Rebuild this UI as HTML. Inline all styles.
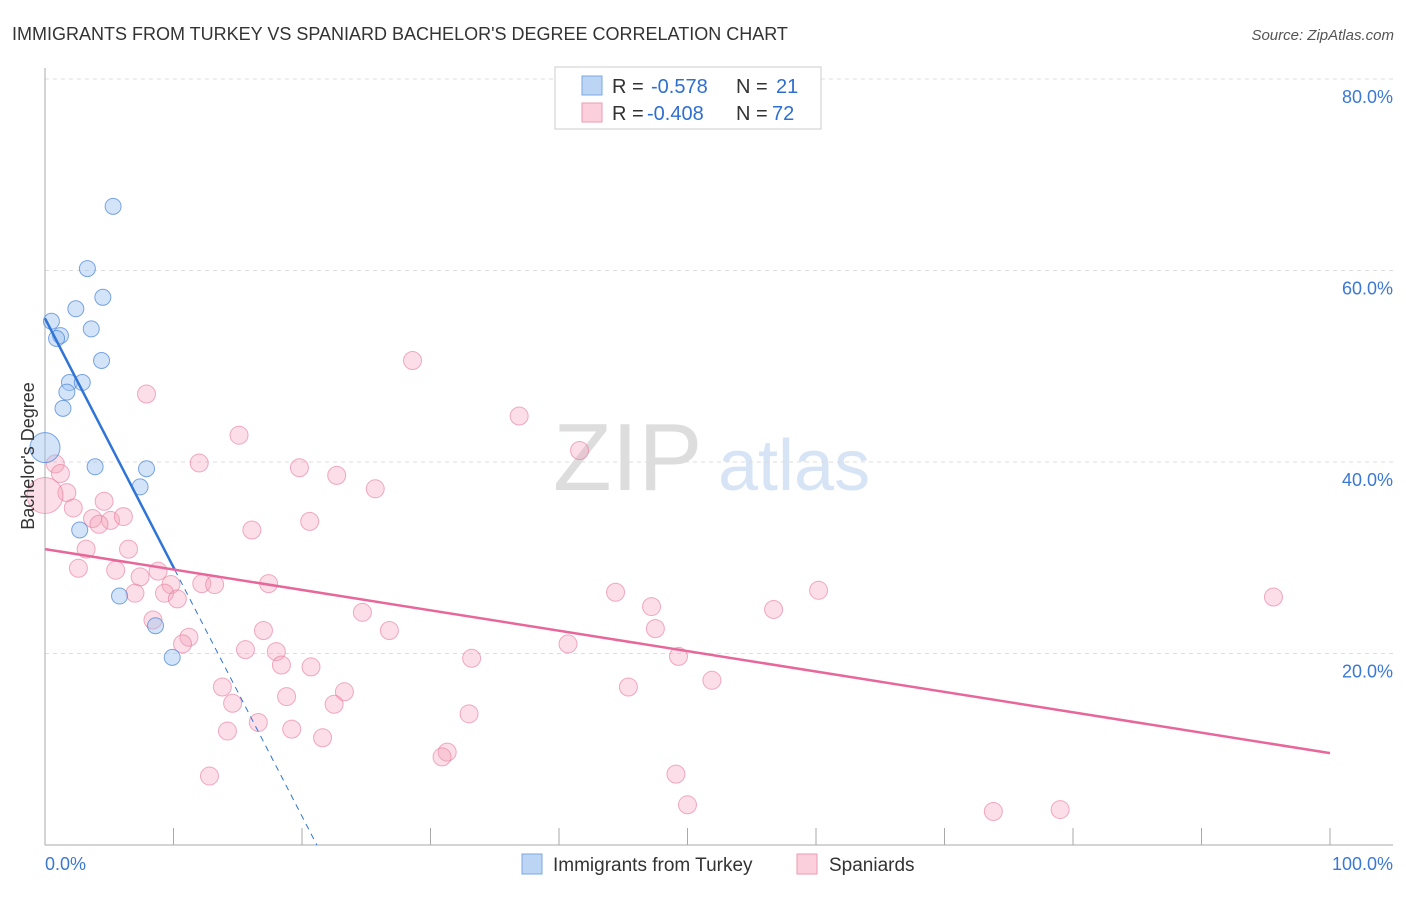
<!DOCTYPE html>
<html><head><meta charset="utf-8"><style>
body{margin:0;background:#fff;font-family:"Liberation Sans",sans-serif;}
svg text{font-family:"Liberation Sans",sans-serif;}
</style></head><body>
<svg id="chart" width="1406" height="892" xmlns="http://www.w3.org/2000/svg">
<text x="12" y="40" font-size="18" fill="#333">IMMIGRANTS FROM TURKEY VS SPANIARD BACHELOR'S DEGREE CORRELATION CHART</text>
<text x="1394" y="40" font-size="15" fill="#555" text-anchor="end" font-style="italic">Source: ZipAtlas.com</text>
<g><text x="553" y="490" font-size="96" fill="#ddd" font-family="Liberation Serif">ZIP</text><text x="718" y="490" font-size="72" fill="#d6e4f5">atlas</text></g>
<g id="grid"></g><g id="axes"></g><g id="pts"></g><g id="lines"></g>
<text transform="translate(34,456) rotate(-90)" font-size="18" fill="#333" text-anchor="middle">Bachelor's Degree</text>
<g>
<rect x="555" y="67" width="266" height="62" fill="#fff" stroke="#ccc"/>
<rect x="582" y="76" width="20" height="19" fill="#bcd5f5" stroke="#7aa8e0"/>
<rect x="582" y="103" width="20" height="19" fill="#fbd0dc" stroke="#ee9ab3"/>
<text x="612" y="93" font-size="20" fill="#333">R =</text>
<text x="651" y="93" font-size="20" fill="#2f6fd0">-0.578</text>
<text x="736" y="93" font-size="20" fill="#333">N =</text>
<text x="776" y="93" font-size="20" fill="#2f6fd0">21</text>
<text x="612" y="120" font-size="20" fill="#333">R =</text>
<text x="647" y="120" font-size="20" fill="#2f6fd0">-0.408</text>
<text x="736" y="120" font-size="20" fill="#333">N =</text>
<text x="772" y="120" font-size="20" fill="#2f6fd0">72</text>
</g>
<g>
<rect x="522" y="854" width="20" height="20" fill="#bcd5f5" stroke="#7aa8e0"/>
<text x="553" y="871" font-size="19" fill="#333">Immigrants from Turkey</text>
<rect x="797" y="854" width="20" height="20" fill="#fbd0dc" stroke="#ee9ab3"/>
<text x="829" y="871" font-size="19" fill="#333">Spaniards</text>
</g>
</svg>
<script>
const yTicks=[20,40,60,80];
const yTickLabels=["20.0%","40.0%","60.0%","80.0%"];
const xTickLabels=["0.0%","100.0%"];
const turkeyX=[5.3,3.3,4.5,2.4,3.6,0.5,1.2,0.9,4.4,1.9,2.9,1.7,1.4,0,3.9,7.9,7.4,2.7,5.8,8.6,9.9];
const turkeyY=[66.7,60.2,57.2,56.0,53.9,54.7,53.2,52.9,50.6,48.3,48.3,47.3,45.6,41.5,39.5,39.3,37.4,32.9,26.0,22.9,19.6];
const spainX=[28.6,7.9,36.9,15.1,41.6,0.8,1.2,12.0,19.8,22.7,25.7,1.7,0,4.6,2.2,20.6,3.7,5.1,6.1,4.2,16.1,3.2,6.5,2.6,5.5,8.8,7.4,9.8,12.2,13.2,17.4,7.0,9.3,10.3,44.4,60.2,95.6,47.2,56.7,24.7,8.4,17.0,26.8,47.5,11.2,10.7,40.7,15.6,18.0,18.4,20.7,33.2,49.3,51.9,45.4,13.8,14.6,18.8,23.3,22.5,33.0,16.6,19.2,14.2,21.6,31.3,30.9,12.8,49.1,50.0,73.8,79.0];
const spainY=[50.6,47.1,44.8,42.8,41.2,39.8,38.8,39.9,39.4,38.6,37.2,36.8,36.5,35.9,35.2,33.8,34.1,33.9,34.3,33.5,32.9,30.9,30.9,28.9,28.7,28.6,28.0,27.2,27.3,27.2,27.3,26.3,26.3,25.7,26.4,26.6,25.9,24.9,24.6,24.3,23.5,22.4,22.4,22.6,21.7,21.0,21.0,20.4,20.2,18.8,18.6,19.5,19.7,17.2,16.5,16.5,14.8,15.5,16.0,14.7,13.7,12.8,12.1,11.9,11.2,9.7,9.2,7.2,7.4,4.2,3.5,3.7];
const turkeyTrend=[55.0,-2.6];
const spainTrend=[30.9,-0.213];
const X=v=>45+v*12.85, Y=v=>845-v*9.575;
const NS="http://www.w3.org/2000/svg";
function mk(p,t,a){const e=document.createElementNS(NS,t);for(const k in a)e.setAttribute(k,a[k]);p.appendChild(e);return e;}
const grid=document.getElementById('grid'),axes=document.getElementById('axes'),pts=document.getElementById('pts'),lines=document.getElementById('lines');
yTicks.forEach((t,i)=>{
 const l=mk(grid,'line',{x1:45,x2:1393,y1:Y(t),y2:Y(t),stroke:'#ddd','stroke-dasharray':'4,4'});
 
 
 const tx=mk(axes,'text',{x:1393,y:Y(t)+24,'font-size':18,fill:'#3b78d4','text-anchor':'end'});
 tx.textContent=yTickLabels[i];
 
 
});
const ax=mk(axes,'line',{x1:45,x2:45,y1:68,y2:845,stroke:'#aaa'});


const bx=mk(axes,'line',{x1:45,x2:1393,y1:845,y2:845,stroke:'#aaa'});


for(let i=0;i<=10;i++){const t=mk(axes,'line',{x1:X(i*10),x2:X(i*10),y1:828,y2:845,stroke:'#aaa'});
 
 }
const l0=mk(axes,'text',{x:45,y:870,'font-size':18,fill:'#3b78d4'});l0.textContent=xTickLabels[0];


const l1=mk(axes,'text',{x:1393,y:870,'font-size':18,fill:'#3b78d4','text-anchor':'end'});l1.textContent=xTickLabels[1];


spainX.forEach((x,i)=>{const r=(x===0)?18:9;
 const c=mk(pts,'circle',{cx:X(x),cy:Y(spainY[i]),r:r,fill:'rgba(244,160,185,0.35)',stroke:'rgba(232,120,155,0.6)'});
 
 });
turkeyX.forEach((x,i)=>{const r=(x===0)?15:8;
 const c=mk(pts,'circle',{cx:X(x),cy:Y(turkeyY[i]),r:r,fill:'rgba(160,195,240,0.45)',stroke:'rgba(70,130,215,0.7)'});
 
 });
const tf=x=>turkeyTrend[0]+turkeyTrend[1]*x, sf=x=>spainTrend[0]+spainTrend[1]*x;
const xEnd=10.1, xZero=-turkeyTrend[0]/turkeyTrend[1];
const b1=mk(lines,'line',{x1:X(0),y1:Y(tf(0)),x2:X(xEnd),y2:Y(tf(xEnd)),stroke:'#2f74d6','stroke-width':2.5});


const b2=mk(lines,'line',{x1:X(xEnd),y1:Y(tf(xEnd)),x2:X(xZero),y2:Y(0),stroke:'#2f74d6','stroke-width':1,'stroke-dasharray':'6,5'});


const p1=mk(lines,'line',{x1:X(0),y1:Y(sf(0)),x2:X(100),y2:Y(sf(100)),stroke:'#e8679a','stroke-width':2.5});


</script>
</body></html>
